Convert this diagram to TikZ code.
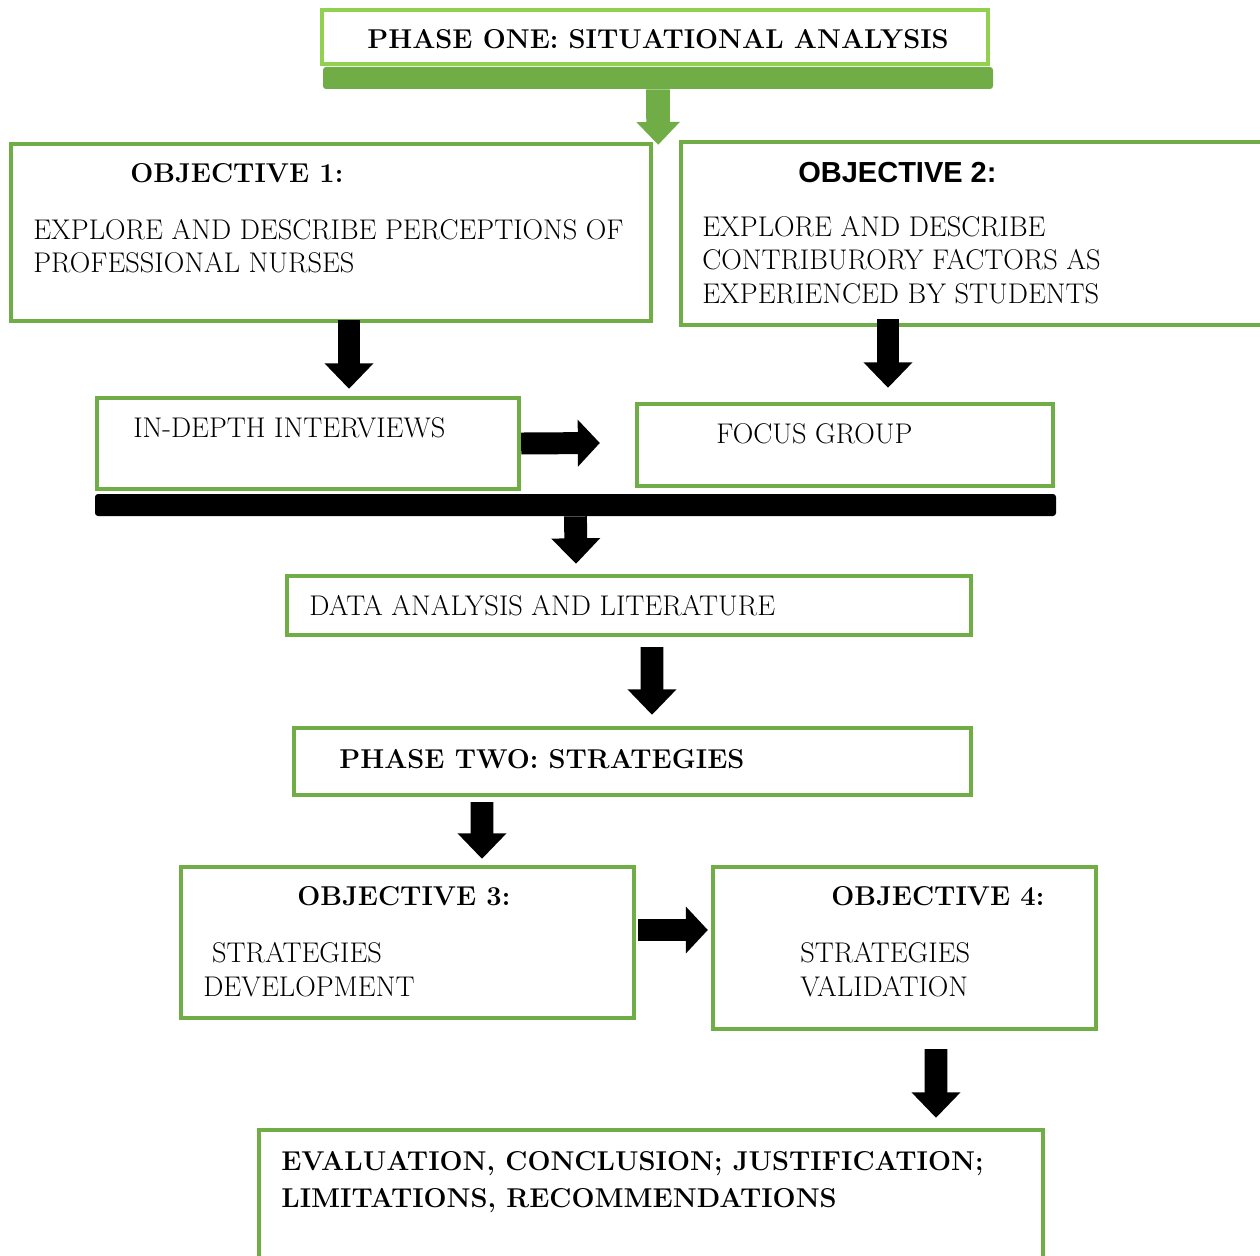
\documentclass[tikz,border=0pt]{standalone}
\usepackage{fontspec}
\newfontfamily\objsans{Liberation Sans}
\usetikzlibrary{arrows.meta,calc}
\definecolor{phasegreen}{HTML}{92D050}
\definecolor{boxgreen}{HTML}{70AD47}

\begin{document}
\begin{tikzpicture}[x=0.2mm,y=-0.2mm]
    \def\px{0.2mm}
    \tikzset{
      greenbox/.style={draw=boxgreen, line width=2.5pt, inner sep=0pt},
      phasebox/.style={greenbox, draw=phasegreen},
      fatarrow/.style={line width=13pt, -{Triangle[length=14.5pt,width=27pt]}},
      sidearrow/.style={line width=12.5pt, -{Triangle[length=12.5pt,width=26pt]}},
      txt/.style={anchor=base west, inner sep=0pt, align=left,
        font=\fontsize{16.2}{19}\selectfont},
      btxt/.style={txt, font=\fontsize{15.5}{21}\selectfont\bfseries}
    }
    \useasboundingbox (0,0) rectangle (1260,1256);
    % Boxes
    \node [phasebox, minimum width=666*\px, minimum height=54*\px] (phase1) at (655,37) {};
    \node [fill=boxgreen, rounded corners=3*\px, minimum width=670*\px, minimum height=22*\px] (bar) at (658,78) {};
    \node [greenbox, minimum width=640*\px, minimum height=177*\px] (obj1) at (331,232.5) {};
    \node [greenbox, minimum width=583*\px, minimum height=183*\px] (obj2) at (972.5,233.5) {};
    \node [greenbox, minimum width=422*\px, minimum height=91*\px] (indepth) at (308,443.5) {};
    \node [greenbox, minimum width=416*\px, minimum height=82*\px] (focus) at (845,445) {};
    \node [fill=black, rounded corners=3*\px, minimum width=961*\px, minimum height=22*\px] (blackbar) at (575.5,505) {};
    \node [greenbox, minimum width=684*\px, minimum height=59*\px] (data) at (629,605.5) {};
    \node [greenbox, minimum width=677*\px, minimum height=67*\px] (phase2) at (632.5,761.5) {};
    \node [greenbox, minimum width=453*\px, minimum height=151*\px] (obj3) at (407.5,942.5) {};
    \node [greenbox, minimum width=383*\px, minimum height=162*\px] (obj4) at (904.5,948) {};
    \node [greenbox, minimum width=784*\px, minimum height=160*\px] (final) at (651,1210) {};
    % Texts (multi-line ones sit on their last baseline)
    \node [btxt] (t1) at (367,49) {PHASE ONE: SITUATIONAL ANALYSIS};
    \node [btxt] (t2) at (130,183) {OBJECTIVE 1:};
    \node [txt] (t3) at (33,273) {EXPLORE AND DESCRIBE PERCEPTIONS OF\\PROFESSIONAL NURSES};
    \node [txt, font=\objsans\fontsize{16.5}{19}\selectfont\bfseries] (t4) at (798,183) {OBJECTIVE 2:};
    \node [txt] (t5) at (702,303) {EXPLORE AND DESCRIBE\\CONTRIBURORY FACTORS AS\\EXPERIENCED BY STUDENTS};
    \node [txt] (t6) at (133,437) {IN-DEPTH INTERVIEWS};
    \node [txt] (t7) at (716,443) {FOCUS GROUP};
    \node [txt] (t8) at (309,615) {DATA ANALYSIS AND LITERATURE};
    \node [btxt] (t9) at (339,768) {PHASE TWO: STRATEGIES};
    \node [btxt] (t10) at (297,905) {OBJECTIVE 3:};
    \node [txt] (t11) at (203,996) {\hspace*{5pt}STRATEGIES\\DEVELOPMENT};
    \node [btxt] (t12) at (831,905) {OBJECTIVE 4:};
    \node [txt] (t13) at (800,996) {STRATEGIES\\VALIDATION};
    \node [btxt] (t14) at (281,1207) {EVALUATION, CONCLUSION; JUSTIFICATION;\\LIMITATIONS, RECOMMENDATIONS};
    % Arrows
    \draw [boxgreen, line width=13.5pt, -{Triangle[length=13pt,width=24pt]}]
      (bar.south) -- ($(obj1.north east)+(5,3)$);
    \draw [fatarrow] ($(obj1.south)+(18,-3)$) -- ($(indepth.north)+(41,-7)$);
    \draw [fatarrow] ($(obj2.south)+(-84.5,-8)$) -- ($(focus.north)+(43,-14)$);
    \draw [sidearrow] (indepth.east) -- ($(focus.west)+(-35,-2)$);
    \draw [fatarrow] (blackbar.south) -- ($(data.north)+(-53,-10)$);
    \draw [fatarrow] ($(data.south)+(23,10)$) -- ($(phase2.north)+(19.5,-11)$);
    \draw [fatarrow] ($(phase2.south)+(-150.5,5)$) -- ($(obj3.north)+(74.5,-6)$);
    \draw [sidearrow] ($(obj3.east)+(2,-12.5)$) -- ($(obj4.west)+(-3,-18)$);
    \draw [fatarrow] ($(obj4.south)+(31.5,18)$) -- ($(final.north)+(285,-10)$);
\end{tikzpicture}
\end{document}
